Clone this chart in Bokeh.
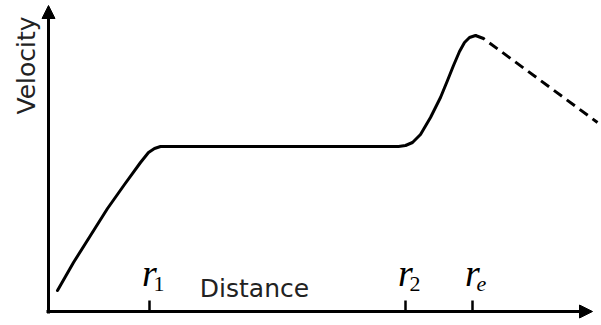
from bokeh.plotting import figure
from bokeh.models import Range1d, Arrow, NormalHead, ColumnDataSource
from bokeh.core.properties import value
from bokeh.embed import file_html
from bokeh.resources import INLINE

# ---- data (arbitrary units) ----
dist = [0.9, 1.7, 2.5, 4.2, 5.9, 7.6, 9.2, 10.0, 10.6, 11.2, 35.0, 35.7, 36.4,
        37.2, 38.2, 39.2, 39.9, 40.5, 41.1, 41.6, 42.1, 42.7]
vel = [2.1, 3.5, 4.9, 7.6, 10.3, 12.7, 14.9, 15.9, 16.3, 16.5, 16.5, 16.6, 16.9,
       17.7, 19.4, 21.4, 23.1, 24.6, 26.0, 26.9, 27.4, 27.6]
dash_dist = [42.7, 43.5, 54.9]
dash_vel = [27.6, 27.3, 18.9]

tick_pos = [10.1, 35.7, 42.4]
tick_main = ["r", "r", "r"]
tick_sub = ["1", "2", "e"]
sub_style = ["normal", "normal", "italic"]

x_label = "Distance"
y_label = "Velocity"

p = figure(width=601, height=325, output_backend="svg", toolbar_location=None,
           x_range=Range1d(-4.8, 55.3), y_range=Range1d(-1.4, 31.1),
           min_border=0, min_border_left=0, min_border_right=0,
           min_border_top=0, min_border_bottom=0)
p.axis.visible = False
p.grid.visible = False
p.outline_line_color = None
p.background_fill_color = "white"
p.border_fill_color = "white"

# axes drawn as arrows
p.add_layout(Arrow(end=NormalHead(size=13, fill_color="black", line_color="black", line_width=1),
                   x_start=0, y_start=-0.2, x_end=0, y_end=30.6,
                   line_width=3, line_color="black"))
p.add_layout(Arrow(end=NormalHead(size=13, fill_color="black", line_color="black", line_width=1),
                   x_start=-0.2, y_start=0, x_end=54.4, y_end=0,
                   line_width=3, line_color="black"))

# ticks pointing inward
n = len(tick_pos)
p.segment(x0=tick_pos, y0=[0] * n, x1=tick_pos, y1=[1.1] * n,
          line_width=2.5, line_color="black")

# curve
p.line(dist, vel, line_width=3, line_color="black", line_join="round", line_cap="round")
p.line(dash_dist, dash_vel, line_width=3, line_color="black", line_dash="10 6")

# tick labels
src = ColumnDataSource(dict(x=tick_pos, main=tick_main, sub=tick_sub, style=sub_style))
p.text(x="x", y=3.9, text="main", source=src, text_align="center",
       text_baseline="alphabetic", text_font=value("Liberation Serif"),
       text_font_style="italic", text_font_size="38px", text_color="black",
       x_offset=0)
p.text(x="x", y=2.8, text="sub", source=src, text_align="left",
       text_baseline="alphabetic", text_font=value("Liberation Serif"),
       text_font_style="style", text_font_size="22px", text_color="black",
       x_offset=4)

# axis titles
p.text(x=[20.6], y=[2.3], text=[x_label], text_align="center",
       text_baseline="alphabetic", text_font=value("DejaVu Sans"),
       text_font_size="25px", text_color="#222222")
p.text(x=[-2.2], y=[24.6], text=[y_label], text_align="center",
       text_baseline="alphabetic", text_font=value("DejaVu Sans"),
       text_font_size="25px", text_color="#222222", angle=1.5708)

open("out.html", "w").write(file_html(p, INLINE))
